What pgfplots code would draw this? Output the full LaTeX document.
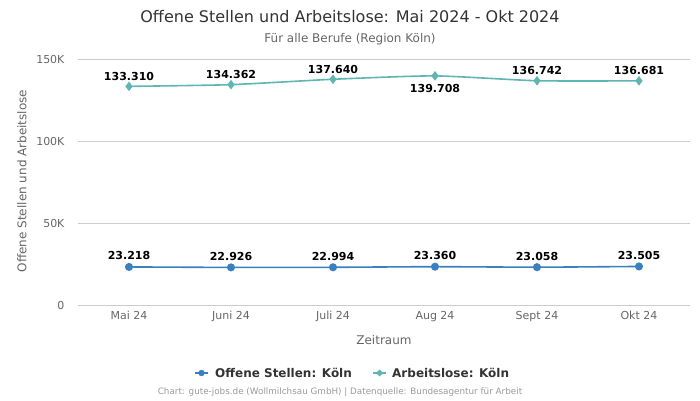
\documentclass[border=0pt]{standalone}
\usepackage{pgfplots}
\pgfplotsset{compat=1.18}
\usepackage{fontspec}
\setmainfont{DejaVu Sans}
\definecolor{cblue}{HTML}{3A80BF}
\definecolor{cteal}{HTML}{5DB6B1}
\definecolor{ctext}{HTML}{333333}
\definecolor{cgray}{HTML}{666666}
\definecolor{cgrid}{HTML}{CCCCCC}
\definecolor{cfoot}{HTML}{999999}
\begin{document}
\begin{tikzpicture}[x=1pt,y=1pt]
\path[use as bounding box] (0,0) rectangle (700,400);
\begin{axis}[
  at={(78pt,95pt)}, anchor=south west,
  scale only axis, width=612pt, height=246pt,
  xmin=-0.5, xmax=5.5, ymin=0, ymax=150000,
  xtick={0,1,2,3,4,5},
  xticklabels={Mai 24,Juni 24,Juli 24,Aug 24,Sept 24,Okt 24},
  ytick={0,50000,100000,150000},
  yticklabels={0,50K,100K,150K},
  scaled y ticks=false,
  axis line style={draw=none},
  ymajorgrids, grid style={cgrid, line width=0.7pt},
  major tick length=0pt,
  tick label style={font=\fontsize{11}{13}\selectfont, text=cgray},
  xticklabel style={yshift=-3pt},
  yticklabel style={xshift=-10pt},
  clip=false,
]
\addplot[cteal, line width=1.6pt, smooth, tension=0.35, mark=diamond*, mark size=3.5pt, mark options={fill=cteal, draw=cteal}]
  coordinates {(0,133310) (1,134362) (2,137640) (3,139708) (4,136742) (5,136681)};
\addplot[cblue, line width=1.6pt, smooth, tension=0.35, mark=*, mark size=3.2pt, mark options={fill=cblue, draw=cblue}]
  coordinates {(0,23218) (1,22926) (2,22994) (3,23360) (4,23058) (5,23505)};
\begin{scope}[every node/.style={font=\bfseries\fontsize{11}{13}\selectfont, text=black}]
\node[above=2.5pt] at (axis cs:0,133310) {133.310};
\node[above=2.5pt] at (axis cs:1,134362) {134.362};
\node[above=2.5pt] at (axis cs:2,137640) {137.640};
\node[below=4.5pt] at (axis cs:3,139708) {139.708};
\node[above=2.5pt] at (axis cs:4,136742) {136.742};
\node[above=2.5pt] at (axis cs:5,136681) {136.681};
\node[above=3.5pt] at (axis cs:0,23218) {23.218};
\node[above=3.5pt] at (axis cs:1,22926) {22.926};
\node[above=3.5pt] at (axis cs:2,22994) {22.994};
\node[above=3.5pt] at (axis cs:3,23360) {23.360};
\node[above=3.5pt] at (axis cs:4,23058) {23.058};
\node[above=3.5pt] at (axis cs:5,23505) {23.505};
\end{scope}
\end{axis}
\node[font=\fontsize{16}{19}\selectfont, text=ctext] at (350,383) {Offene Stellen und Arbeitslose: Mai 2024 - Okt 2024};
\node[font=\fontsize{12}{14}\selectfont, text=cgray] at (350,361) {Für alle Berufe (Region Köln)};
\node[font=\fontsize{12}{14}\selectfont, text=cgray] at (384,60) {Zeitraum};
\node[font=\fontsize{12}{14}\selectfont, text=cgray, rotate=90] at (22,219) {Offene Stellen und Arbeitslose};
% legend
\draw[cblue, line width=1.6pt] (195,27) -- (208,27);
\fill[cblue] (201.5,27) circle (3.2pt);
\node[anchor=west, inner sep=0pt, font=\bfseries\fontsize{12}{14}\selectfont, text=ctext] at (215,27) {Offene Stellen: Köln};
\draw[cteal, line width=1.6pt] (373,27) -- (386,27);
\fill[cteal] (379.5,30.5) -- (383,27) -- (379.5,23.5) -- (376,27) -- cycle;
\node[anchor=west, inner sep=0pt, font=\bfseries\fontsize{12}{14}\selectfont, text=ctext] at (392,27) {Arbeitslose: Köln};
\node[font=\fontsize{8.8}{11}\selectfont, text=cfoot] at (340,8) {Chart: gute-jobs.de (Wollmilchsau GmbH) | Datenquelle: Bundesagentur für Arbeit};
\end{tikzpicture}
\end{document}
